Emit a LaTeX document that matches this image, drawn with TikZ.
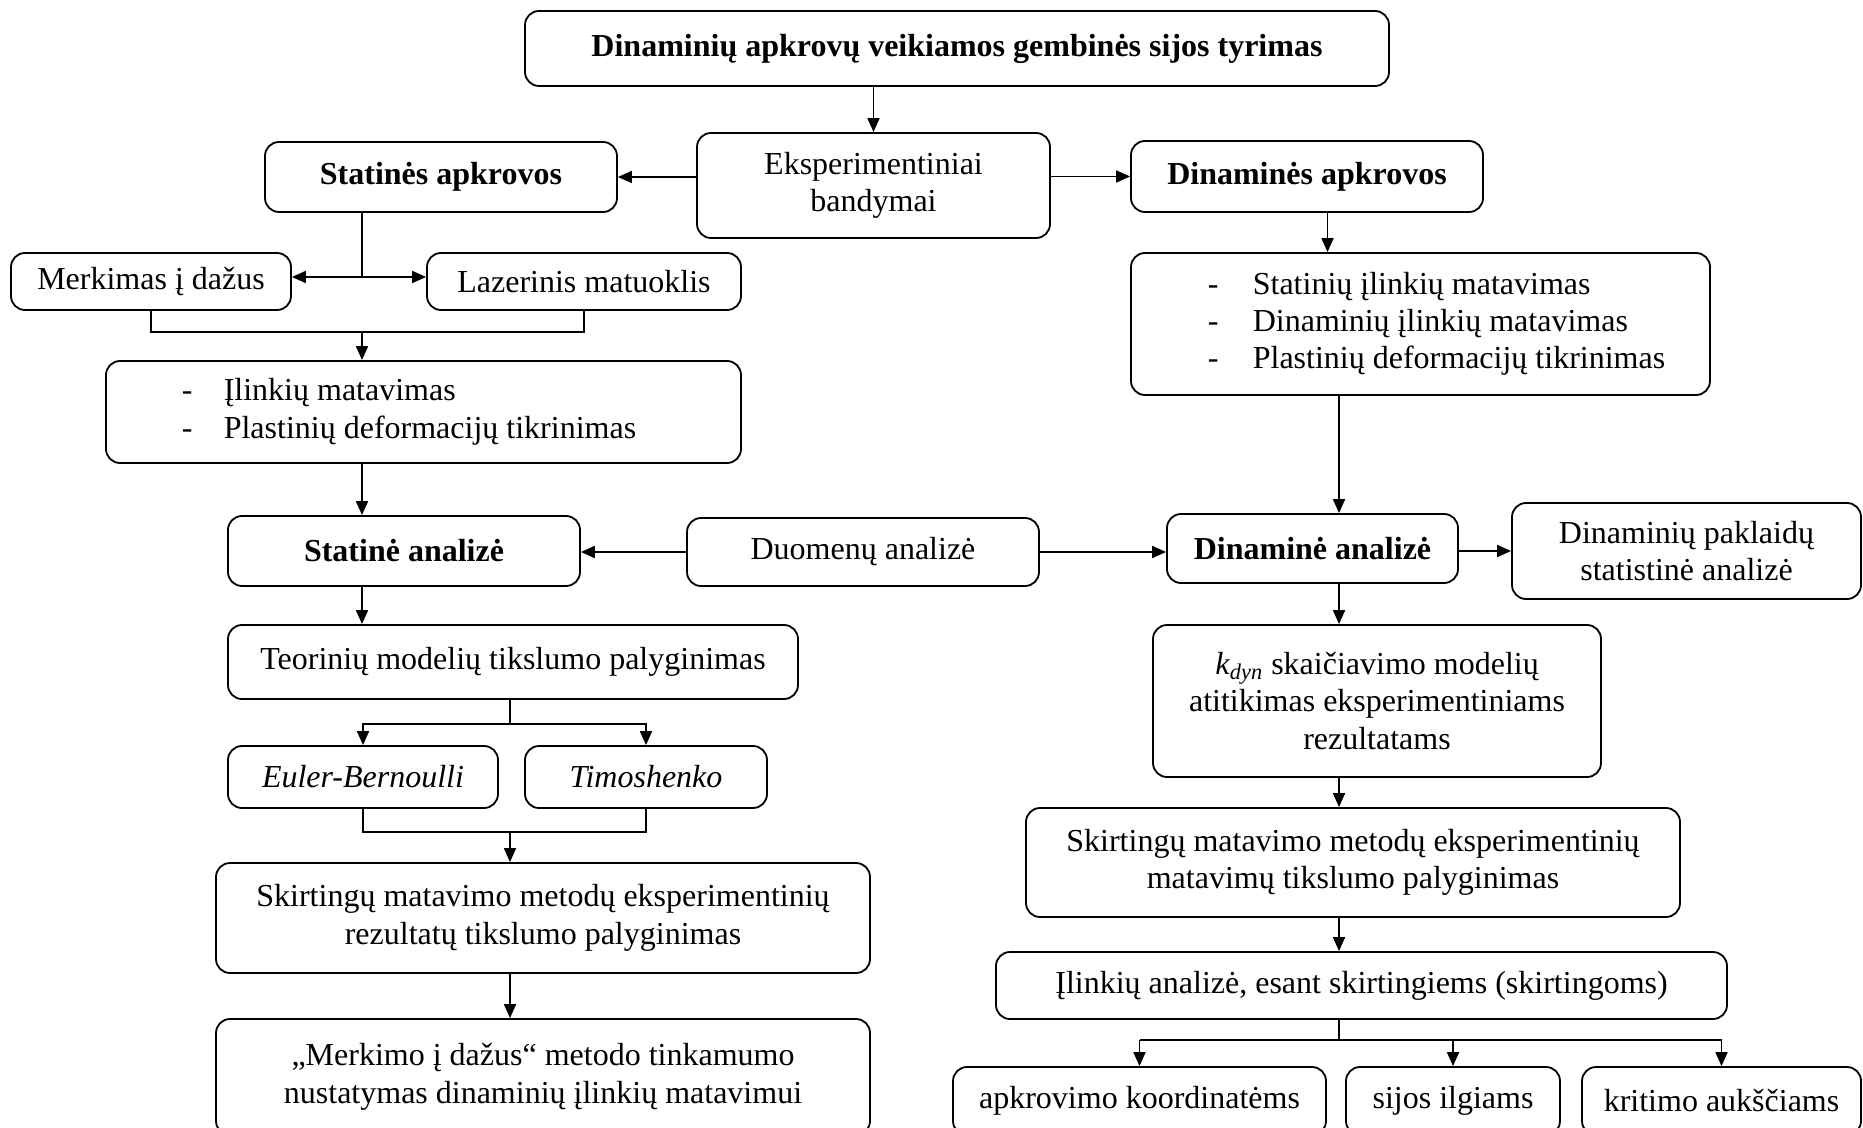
\documentclass[tikz,border=0pt]{standalone}
\usepackage{fontspec}
\setmainfont{Liberation Serif}
\usepackage{array}
\usetikzlibrary{positioning,arrows.meta}

\begin{document}
\begin{tikzpicture}[
        x=0.5pt, y=-0.5pt,
        font=\fontsize{16}{18.7}\selectfont,
        box/.style={rectangle, rounded corners=7pt, draw=black, line width=0.9pt, align=center, inner sep=2pt},
        boldbox/.style={box, font=\fontsize{16}{18.7}\selectfont\bfseries},
        boxsize/.style 2 args={minimum width=#1pt, minimum height=#2pt},
        link/.style={line width=0.9pt},
        arrow/.style={-{Triangle[length=7pt, width=6pt]}, line width=0.9pt}
    ]
    \useasboundingbox (0,0) rectangle (1863,1128);
    \clip (0,0) rectangle (1863,1128);

    % top part
    \node[boldbox, boxsize={432}{37.5}] (top) at (957,48.5) {Dinaminių apkrovų veikiamos gembinės sijos tyrimas};
    \node[box, boxsize={176.5}{52.5}] (eksp) at (873.5,185.5) {Eksperimentiniai\\bandymai};
    \node[boldbox, boxsize={176}{35}] (stat) at (441,177) {Statinės apkrovos};
    \node[boldbox, boxsize={176}{35.5}] (dinap) at (1307,176.5) {Dinaminės apkrovos};

    % static branch
    \node[box, boxsize={140}{28.5}] (merk) at (151,281.5) {Merkimas į dažus};
    \node[box, boxsize={157}{28.5}] (lazer) at (584,281.5) {Lazerinis matuoklis};
    \node[box, boxsize={317.5}{51}] (ilink) at (423.5,412) {\begin{tabular}{@{}p{21pt}@{}l@{\hspace{14.5pt}}}
        - & Įlinkių matavimas\\
        - & Plastinių deformacijų tikrinimas
    \end{tabular}};
    \node[boldbox, boxsize={176}{35}] (stata) at (404,551) {Statinė analizė};
    \node[box, boxsize={285}{37}] (teor) at (513,662) {Teorinių modelių tikslumo palyginimas};
    \node[box, boxsize={135}{31}, font=\fontsize{16}{18.7}\selectfont\itshape] (euler) at (363,777) {Euler-Bernoulli};
    \node[box, boxsize={121}{31}, font=\fontsize{16}{18.7}\selectfont\itshape] (timo) at (646,777) {Timoshenko};
    \node[box, boxsize={327}{55}] (skirL) at (543,918) {Skirtingų matavimo metodų eksperimentinių\\rezultatų tikslumo palyginimas};
    \node[box, boxsize={327}{58}] (merkimo) at (543,1077) {„Merkimo į dažus“ metodo tinkamumo\\nustatymas dinaminių įlinkių matavimui};

    % middle
    \node[box, boxsize={176}{34}] (duom) at (863,552) {Duomenų analizė};

    % dynamic branch
    \node[box, boxsize={289.5}{71}] (matdin) at (1420.5,324) {\begin{tabular}{@{\hspace{16pt}}p{22.5pt}@{}l@{}}
        - & Statinių įlinkių matavimas\\
        - & Dinaminių įlinkių matavimas\\
        - & Plastinių deformacijų tikrinimas
    \end{tabular}};
    \node[boldbox, boxsize={145.5}{34.5}] (dina) at (1312.5,548.5) {Dinaminė analizė};
    \node[box, boxsize={174.5}{48}] (pakl) at (1686.5,551) {Dinaminių paklaidų\\statistinė analizė};
    \node[box, boxsize={224}{76}] (kdyn) at (1377,701) {\textit{k}\textsubscript{\textit{dyn}} skaičiavimo modelių\\atitikimas eksperimentiniams\\rezultatams};
    \node[box, boxsize={327}{54.5}] (skirR) at (1353,862.5) {Skirtingų matavimo metodų eksperimentinių\\matavimų tikslumo palyginimas};
    \node[box, boxsize={365.5}{33.5}] (ilan) at (1361.5,985.5) {Įlinkių analizė, esant skirtingiems (skirtingoms)};
    \node[box, boxsize={186.5}{34}] (apkr) at (1139.5,1101) {apkrovimo koordinatėms};
    \node[box, boxsize={107}{34}] (sijos) at (1453,1101) {sijos ilgiams};
    \node[box, boxsize={139.5}{34}] (krit) at (1721.5,1101) {kritimo aukščiams};

    % junctions
    \coordinate (sj) at (362,277);
    \coordinate (mj) at (362,332);
    \coordinate (tj) at (510,724);
    \coordinate (ej) at (510,832);
    \coordinate (dcol) at (1327.5,0);
    \coordinate (bj) at (1339,1040);

    \draw[arrow] (top.south -| eksp.north) -- (eksp.north);
    \draw[arrow] (eksp.west |- stat) -- (stat.east);
    \draw[arrow] (eksp.east |- dinap) -- (dinap.west);

    \draw[link] (stat.south -| sj) -- (sj);
    \draw[arrow] (sj) -- (merk.east |- sj);
    \draw[arrow] (sj) -- (lazer.west |- sj);
    \draw[link] (merk.south) |- (mj) -| (lazer.south);
    \draw[arrow] (mj) -- (ilink.north -| mj);
    \draw[arrow] (ilink.south -| mj) -- (stata.north -| mj);
    \draw[arrow] (duom.west) -- (stata.east |- duom.west);
    \draw[arrow] (stata.south -| mj) -- (teor.north -| mj);
    \draw[link] (teor.south -| tj) -- (tj);
    \draw[arrow] (tj) -| (euler.north);
    \draw[arrow] (tj) -| (timo.north);
    \draw[link] (euler.south) |- (ej) -| (timo.south);
    \draw[arrow] (ej) -- (skirL.north -| ej);
    \draw[arrow] (skirL.south -| ej) -- (merkimo.north -| ej);

    \draw[arrow] (dinap.south -| dcol) -- (matdin.north -| dcol);
    \draw[arrow] (matdin.south -| bj) -- (dina.north -| bj);
    \draw[arrow] (duom.east) -- (dina.west |- duom.east);
    \draw[arrow] (dina.east |- pakl.west) -- (pakl.west);
    \draw[arrow] (dina.south -| bj) -- (kdyn.north -| bj);
    \draw[arrow] (kdyn.south -| bj) -- (skirR.north -| bj);
    \draw[arrow] (skirR.south -| bj) -- (ilan.north -| bj);
    \draw[link] (ilan.south -| bj) -- (bj);
    \draw[link] (bj -| apkr) -- (bj -| krit);
    \draw[arrow] (bj -| apkr) -- (apkr.north);
    \draw[arrow] (bj -| sijos) -- (sijos.north);
    \draw[arrow] (bj -| krit) -- (krit.north);
\end{tikzpicture}
\end{document}
